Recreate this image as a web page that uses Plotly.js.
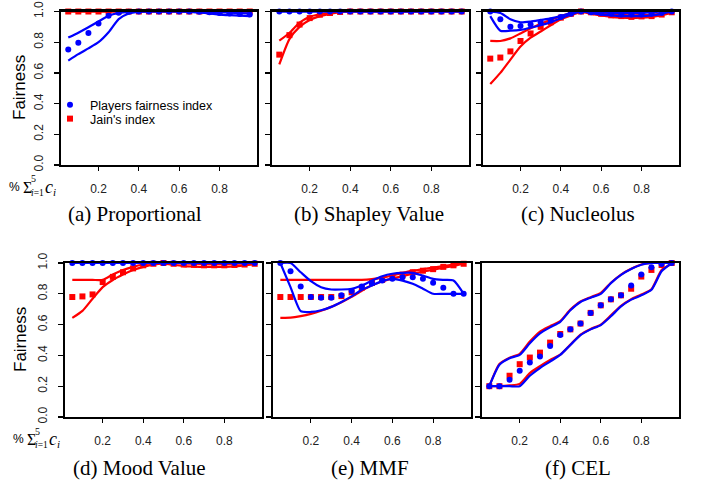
<!DOCTYPE html>
<html>
<head>
<meta charset="utf-8">
<script src="https://cdn.plot.ly/plotly-3.0.1.min.js"></script>
<style>html,body{margin:0;padding:0;background:#fff}#chart{width:702px;height:487px}</style>
</head>
<body>
<div id="chart"></div>
<script>
// x positions: share of sum of c_i
var share = [0.05,0.10,0.15,0.20,0.25,0.30,0.35,0.40,0.45,0.50,0.55,0.60,0.65,0.70,0.75,0.80,0.85,0.90,0.95];
var xTickVals = [0.2,0.4,0.6,0.8];
var xTickText = ['0.2','0.4','0.6','0.8'];
var yTickVals = [0,0.2,0.4,0.6,0.8,1.0];
var yTickText = ['0.0','0.2','0.4','0.6','0.8','1.0'];

// (a) Proportional
var prop_players    = [0.753,0.796,0.860,0.922,0.972,0.992,0.998,1,1,1,1,1,1,0.998,0.995,0.990,0.987,0.983,0.980];
var prop_players_hi = [0.830,0.862,0.897,0.935,0.972,0.990,0.998,1,1,1,1,1,1,1,0.998,0.995,0.992,0.990,0.988];
var prop_players_lo = [0.680,0.722,0.760,0.800,0.865,0.950,0.987,0.998,1,1,1,1,0.998,0.993,0.987,0.980,0.976,0.973,0.970];
var prop_jain    = [1,1,1,1,1,1,1,1,1,1,1,1,1,1,1,1,1,1,1];
var prop_jain_hi = [1,1,1,1,1,1,1,1,1,1,1,1,1,1,1,1,1,1,1];
var prop_jain_lo = [1,1,1,1,1,1,1,1,1,1,1,1,1,1,1,1,1,1,1];

// (b) Shapley Value
var shap_players    = [1,1,1,1,1,1,1,1,1,1,1,1,1,1,1,1,1,1,1];
var shap_players_hi = [1,1,1,1,1,1,1,1,1,1,1,1,1,1,1,1,1,1,1];
var shap_players_lo = [1,1,1,1,1,1,1,1,1,1,1,1,1,1,1,1,1,1,1];
var shap_jain    = [0.719,0.846,0.915,0.957,0.979,0.990,0.997,1,1,1,1,1,1,1,1,1,1,1,1];
var shap_jain_hi = [0.810,0.860,0.927,0.965,0.982,0.992,0.998,1,1,1,1,1,1,1,1,1,1,1,1];
var shap_jain_lo = [0.655,0.820,0.900,0.945,0.970,0.985,0.995,1,1,1,1,1,1,1,1,1,1,1,1];

// (c) Nucleolus
var nuc_players    = [1.000,0.949,0.900,0.906,0.915,0.928,0.942,0.964,0.985,1.000,0.995,0.990,0.985,0.980,0.980,0.980,0.985,0.990,1.000];
var nuc_players_hi = [1.000,0.990,0.950,0.930,0.935,0.945,0.955,0.970,0.990,1.000,1.000,0.995,0.990,0.990,0.990,0.990,0.995,1.000,1.000];
var nuc_players_lo = [0.970,0.875,0.875,0.880,0.895,0.910,0.930,0.955,0.980,1.000,0.990,0.980,0.975,0.970,0.970,0.970,0.975,0.985,1.000];
var nuc_jain    = [0.693,0.700,0.740,0.808,0.857,0.900,0.930,0.960,0.985,1.000,0.995,0.985,0.975,0.970,0.965,0.968,0.970,0.980,0.995];
var nuc_jain_hi = [0.808,0.808,0.825,0.857,0.890,0.920,0.945,0.970,0.990,1.000,0.998,0.990,0.983,0.978,0.975,0.976,0.978,0.986,0.998];
var nuc_jain_lo = [0.527,0.600,0.687,0.772,0.830,0.870,0.910,0.950,0.975,0.995,0.985,0.975,0.965,0.960,0.958,0.960,0.965,0.975,0.990];

// (d) Mood Value
var mood_players    = [1,1,1,1,1,1,1,1,1,1,1,1,1,1,1,1,1,1,1];
var mood_players_hi = [1,1,1,1,1,1,1,1,1,1,1,1,1,1,1,1,1,1,1];
var mood_players_lo = [1,1,1,1,1,1,1,1,1,1,1,1,1,1,1,1,1,1,1];
var mood_jain    = [0.779,0.783,0.796,0.876,0.910,0.940,0.965,0.985,0.995,1.000,0.995,0.990,0.988,0.985,0.985,0.985,0.987,0.990,0.995];
var mood_jain_hi = [0.890,0.890,0.890,0.890,0.925,0.955,0.975,0.990,1.000,1.000,1.000,0.998,0.995,0.993,0.993,0.993,0.995,0.997,1.000];
var mood_jain_lo = [0.644,0.689,0.768,0.843,0.890,0.925,0.955,0.975,0.990,0.995,0.988,0.980,0.977,0.975,0.975,0.975,0.978,0.985,0.993];

// (e) MMF
var mmf_players    = [1.000,0.946,0.848,0.779,0.775,0.775,0.790,0.818,0.848,0.869,0.886,0.897,0.908,0.908,0.897,0.871,0.839,0.800,0.800];
var mmf_players_hi = [1.000,1.000,0.940,0.882,0.843,0.828,0.828,0.833,0.854,0.886,0.914,0.930,0.936,0.936,0.918,0.897,0.890,0.886,0.800];
var mmf_players_lo = [1.000,0.843,0.687,0.682,0.693,0.715,0.747,0.783,0.826,0.854,0.882,0.897,0.886,0.865,0.833,0.800,0.800,0.800,0.800];
var mmf_jain    = [0.779,0.779,0.779,0.779,0.779,0.779,0.785,0.810,0.840,0.870,0.890,0.910,0.925,0.940,0.950,0.960,0.975,0.985,0.995];
var mmf_jain_hi = [0.890,0.890,0.890,0.890,0.890,0.890,0.890,0.890,0.890,0.895,0.905,0.920,0.935,0.950,0.960,0.970,0.980,0.990,1.000];
var mmf_jain_lo = [0.644,0.645,0.655,0.670,0.690,0.715,0.745,0.780,0.820,0.855,0.880,0.900,0.915,0.930,0.945,0.955,0.970,0.980,0.995];

// (f) CEL
var cel_players    = [0.200,0.200,0.242,0.300,0.354,0.393,0.461,0.532,0.569,0.607,0.676,0.725,0.764,0.790,0.854,0.925,0.972,0.994,1.000];
var cel_players_hi = [0.200,0.339,0.382,0.403,0.479,0.543,0.582,0.618,0.693,0.747,0.775,0.800,0.869,0.923,0.961,0.989,1.000,1.000,1.000];
var cel_players_lo = [0.200,0.200,0.200,0.200,0.268,0.318,0.360,0.403,0.468,0.532,0.569,0.597,0.654,0.718,0.762,0.790,0.826,0.946,1.000];
var cel_jain    = [0.200,0.200,0.268,0.343,0.386,0.418,0.483,0.539,0.569,0.607,0.676,0.725,0.764,0.790,0.833,0.912,0.955,0.987,1.000];
var cel_jain_hi = [0.200,0.345,0.385,0.410,0.490,0.555,0.590,0.622,0.697,0.750,0.778,0.805,0.872,0.925,0.962,0.990,1.000,1.000,1.000];
var cel_jain_lo = [0.200,0.200,0.205,0.215,0.285,0.330,0.370,0.405,0.470,0.535,0.572,0.600,0.660,0.722,0.765,0.795,0.830,0.955,0.995];

var BLUE = '#0000ff', RED = '#ff0000';
var panels = [
  {ax:'', pl:prop_players, plh:prop_players_hi, pll:prop_players_lo, ja:prop_jain, jah:prop_jain_hi, jal:prop_jain_lo},
  {ax:'2', pl:shap_players, plh:shap_players_hi, pll:shap_players_lo, ja:shap_jain, jah:shap_jain_hi, jal:shap_jain_lo},
  {ax:'3', pl:nuc_players, plh:nuc_players_hi, pll:nuc_players_lo, ja:nuc_jain, jah:nuc_jain_hi, jal:nuc_jain_lo},
  {ax:'4', pl:mood_players, plh:mood_players_hi, pll:mood_players_lo, ja:mood_jain, jah:mood_jain_hi, jal:mood_jain_lo},
  {ax:'5', pl:mmf_players, plh:mmf_players_hi, pll:mmf_players_lo, ja:mmf_jain, jah:mmf_jain_hi, jal:mmf_jain_lo},
  {ax:'6', pl:cel_players, plh:cel_players_hi, pll:cel_players_lo, ja:cel_jain, jah:cel_jain_hi, jal:cel_jain_lo}
];

var traces = [];
panels.forEach(function(p, i){
  var xa = 'x' + p.ax, ya = 'y' + p.ax;
  function line(y, c){ return {x:share, y:y, xaxis:xa, yaxis:ya, mode:'lines', line:{color:c, width:2.2, shape:'spline', smoothing:0.6}, showlegend:false, cliponaxis:false, hoverinfo:'skip'}; }
  traces.push(line(p.jah, RED));
  traces.push(line(p.jal, RED));
  traces.push({x:share, y:p.ja, xaxis:xa, yaxis:ya, mode:'markers', name:"Jain's index",
    marker:{symbol:'square', size:6, color:RED}, showlegend:i===0, legend:'legend2', cliponaxis:false});
  traces.push(line(p.plh, BLUE));
  traces.push(line(p.pll, BLUE));
  traces.push({x:share, y:p.pl, xaxis:xa, yaxis:ya, mode:'markers', name:'Players fairness index',
    marker:{symbol:'circle', size:6, color:BLUE}, showlegend:i===0, legend:'legend', cliponaxis:false});
});

var W = 702, H = 487;
function px(a){ return a / W; }
function py(b){ return 1 - b / H; }
var tickFont = {family:'Liberation Sans, Arial, sans-serif', size:12, color:'#222'};
function xAxis(l, r, anchor){
  return {domain:[px(l), px(r)], range:[0.014, 0.986], anchor:anchor, showline:true, mirror:true,
    linewidth:2.4, linecolor:'#000', showgrid:false, zeroline:false, tickmode:'array',
    tickvals:xTickVals, ticktext:xTickText, ticks:'outside', ticklen:4, tickwidth:1, tickcolor:'#000',
    tickfont:tickFont, ticklabelstandoff:7, fixedrange:true};
}
function yAxis(t, b, anchor, labels){
  return {domain:[py(b), py(t)], range:[0, 1], anchor:anchor, showline:true, mirror:true,
    linewidth:2.4, linecolor:'#000', showgrid:false, zeroline:false, tickmode:'array',
    tickvals:yTickVals, ticktext:yTickText, ticks:'outside', ticklen:5, tickwidth:1.2, tickcolor:'#000',
    showticklabels:labels, tickangle:-90, tickfont:tickFont, ticklabelstandoff:6, fixedrange:true};
}

var capFont = {family:'Liberation Serif, Times New Roman, serif', size:21, color:'#000'};
var labFont = {family:'Liberation Sans, Arial, sans-serif', size:17, color:'#000'};
var serif = 'Liberation Serif, Times New Roman, serif';
function ann(text, x, y, font, extra){
  var a = {text:text, x:px(x), y:py(y), xref:'paper', yref:'paper', showarrow:false, xanchor:'center', yanchor:'middle', font:font, borderpad:0};
  for (var k in extra) a[k] = extra[k];
  return a;
}
var captions = ['(a) Proportional','(b) Shapley Value','(c) Nucleolus','(d) Mood Value','(e) MMF','(f) CEL'];
var capPos = [[135,214],[369,214],[578,214],[139,468],[370,468],[578,468]];
var annotations = [];
captions.forEach(function(c, i){ annotations.push(ann(c, capPos[i][0], capPos[i][1], capFont)); });
[[19,88],[20,340]].forEach(function(p){ annotations.push(ann('Fairness', p[0], p[1], labFont, {textangle:-90})); });
// x-axis label: % sum_{i=1}^5 c_i
[[0,0],[4,252]].forEach(function(o){
  var dx = o[0], dy = o[1];
  annotations.push(ann('%', 14.5+dx, 187+dy, {family:'Liberation Sans, Arial, sans-serif', size:12, color:'#000'}));
  annotations.push(ann('Σ', 27+dx, 187+dy, {family:serif, size:16, color:'#000'}));
  annotations.push(ann('5', 33.5+dx, 179+dy, {family:serif, size:10, color:'#000'}));
  annotations.push(ann('<i>i</i>=1', 37.5+dx, 193+dy, {family:serif, size:9.5, color:'#000'}));
  annotations.push(ann('<i>c</i>', 49+dx, 186.5+dy, {family:serif, size:18, color:'#000'}));
  annotations.push(ann('<i>i</i>', 54.5+dx, 192+dy, {family:serif, size:11, color:'#000'}));
});

var legFont = {family:'Liberation Sans, Arial, sans-serif', size:12.5, color:'#000'};
var layout = {
  width:W, height:H, margin:{l:0, r:0, t:0, b:0}, paper_bgcolor:'#fff', plot_bgcolor:'#fff',
  showlegend:true,
  legend:{x:px(50), y:py(90), xanchor:'left', yanchor:'top', bgcolor:'rgba(0,0,0,0)', borderwidth:0, font:legFont, itemwidth:30, tracegroupgap:0},
  legend2:{x:px(50), y:py(104), xanchor:'left', yanchor:'top', bgcolor:'rgba(0,0,0,0)', borderwidth:0, font:legFont, itemwidth:30, tracegroupgap:0},
  xaxis:xAxis(61, 257, 'y'), yaxis:yAxis(11.5, 165, 'x', true),
  xaxis2:xAxis(272, 469, 'y2'), yaxis2:yAxis(11.5, 165, 'x2', false),
  xaxis3:xAxis(483, 679, 'y3'), yaxis3:yAxis(11.5, 165, 'x3', false),
  xaxis4:xAxis(65, 262, 'y4'), yaxis4:yAxis(263, 417, 'x4', true),
  xaxis5:xAxis(273, 471, 'y5'), yaxis5:yAxis(263, 417, 'x5', false),
  xaxis6:xAxis(482, 679, 'y6'), yaxis6:yAxis(263, 417, 'x6', false),
  annotations:annotations
};
Plotly.newPlot('chart', traces, layout, {displayModeBar:false, staticPlot:true});
</script>
</body>
</html>
